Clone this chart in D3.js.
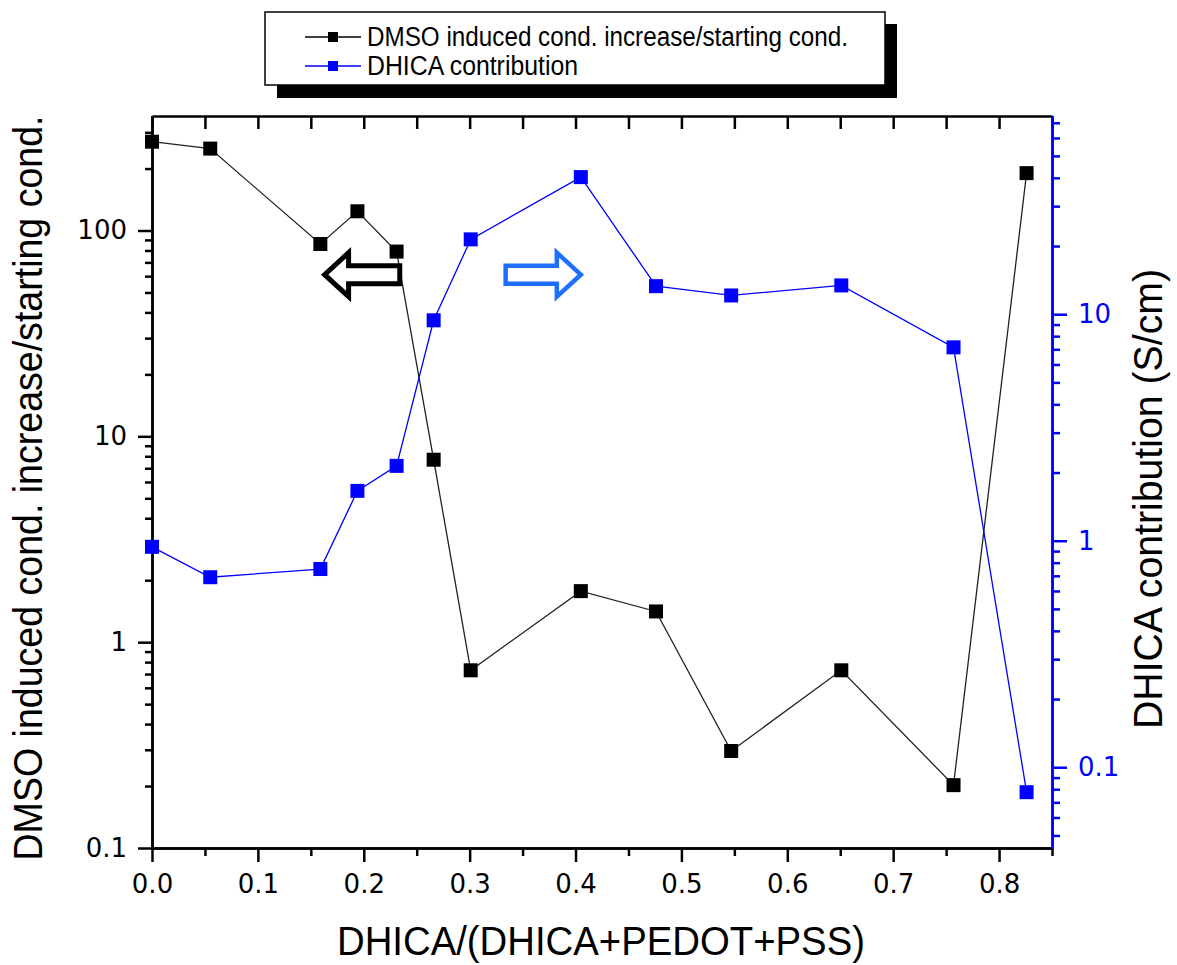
<!DOCTYPE html>
<html>
<head>
<meta charset="utf-8">
<script src="https://cdnjs.cloudflare.com/ajax/libs/d3/7.8.5/d3.min.js"></script>
<style>
  body { margin: 0; background: #fff; }
  .title { font-family: "Liberation Sans", Arial, sans-serif; fill: #000; }
</style>
</head>
<body>
<div class="vis"></div>
<script>
// data
const fraction = [0, 0.055, 0.159, 0.194, 0.231, 0.266, 0.301, 0.405, 0.476, 0.547, 0.651, 0.757, 0.826]
const dmsoRatio = [270, 250, 86, 124, 79, 7.7, 0.73, 1.77, 1.41, 0.296, 0.73, 0.202, 190]
const dhicaContrib = [0.94, 0.69, 0.75, 1.66, 2.14, 9.4, 21.4, 40.3, 13.3, 12.1, 13.4, 7.14, 0.0776]

const xTicks = [0, 0.1, 0.2, 0.3, 0.4, 0.5, 0.6, 0.7, 0.8]
const xMinorTicks = [0.05, 0.15, 0.25, 0.35, 0.45, 0.55, 0.65, 0.75, 0.85]
const leftTicks = [0.1, 1, 10, 100]
const leftMinorTicks = [0.2, 0.3, 0.4, 0.5, 0.6, 0.7, 0.8, 0.9, 2, 3, 4, 5, 6, 7, 8, 9,
                        20, 30, 40, 50, 60, 70, 80, 90, 200, 300]
const rightTicks = [0.1, 1, 10]
const rightMinorTicks = [0.05, 0.06, 0.07, 0.08, 0.09, 0.2, 0.3, 0.4, 0.5, 0.6, 0.7, 0.8, 0.9,
                         2, 3, 4, 5, 6, 7, 8, 9, 20, 30, 40, 50, 60, 70]
const legendLabels = ['DMSO induced cond. increase/starting cond.', 'DHICA contribution']
const seriesColors = ['#000', '#0000ff']

const w = 1177
const h = 965
const plotLeft = 152, plotRight = 1052, plotTop = 116, plotBottom = 848
const blueArrow = '#1f6fff'

const svg = d3.select('.vis')
                .append('svg')
                .attr('width', w)
                .attr('height', h)

// 比例尺
const x = d3.scaleLinear().domain([0, 0.85]).range([plotLeft, plotRight])
const yLeft = d3.scaleLog().domain([0.1, 360]).range([plotBottom, plotTop])
const yRight = d3.scaleLog().domain([0.044, 75]).range([plotBottom, plotTop])

function styleAxis(g, color, width) {
    g.selectAll('path, line').attr('stroke', color).attr('stroke-width', width)
    g.selectAll('text').attr('fill', color)
        .attr('font-family', '"DejaVu Sans", Verdana, sans-serif')
}

// 顶部刻度（向内）
svg.append('g')
    .attr('transform', 'translate(0,' + plotTop + ')')
    .call(d3.axisTop(x).tickValues(xTicks.concat(xMinorTicks)).tickSize(-13).tickSizeOuter(0).tickFormat(''))
    .call(g => styleAxis(g, '#000', 2.5))

// x轴
svg.append('g')
    .attr('transform', 'translate(0,' + plotBottom + ')')
    .call(d3.axisBottom(x).tickValues(xMinorTicks).tickSize(8).tickSizeOuter(0).tickFormat(''))
    .call(g => styleAxis(g, '#000', 2.5))
svg.append('g')
    .attr('transform', 'translate(0,' + plotBottom + ')')
    .call(d3.axisBottom(x).tickValues(xTicks).tickSize(14).tickPadding(13).tickSizeOuter(0).tickFormat(d3.format('.1f')))
    .call(g => styleAxis(g, '#000', 2.5))
    .attr('font-size', 26)

// 左轴
svg.append('g')
    .attr('transform', 'translate(' + plotLeft + ',0)')
    .call(d3.axisLeft(yLeft).tickValues(leftMinorTicks).tickSize(7).tickSizeOuter(0).tickFormat(''))
    .call(g => styleAxis(g, '#000', 2.5))
svg.append('g')
    .attr('transform', 'translate(' + plotLeft + ',0)')
    .call(d3.axisLeft(yLeft).tickValues(leftTicks).tickSize(14).tickPadding(11).tickSizeOuter(0).tickFormat(d => String(d)))
    .call(g => styleAxis(g, '#000', 2.5))
    .attr('font-size', 26)

// 右轴（蓝色）
svg.append('g')
    .attr('transform', 'translate(' + plotRight + ',0)')
    .call(d3.axisRight(yRight).tickValues(rightMinorTicks).tickSize(8).tickSizeOuter(0).tickFormat(''))
    .call(g => styleAxis(g, '#0000ff', 2.5))
svg.append('g')
    .attr('transform', 'translate(' + plotRight + ',0)')
    .call(d3.axisRight(yRight).tickValues(rightTicks).tickSize(15).tickPadding(11).tickSizeOuter(0).tickFormat(d => String(d)))
    .call(g => styleAxis(g, '#0000ff', 2.5))
    .attr('font-size', 26)

// 数据折线和方块
const series = [
    { values: dmsoRatio, y: yLeft, color: '#222', line: 1.3 },
    { values: dhicaContrib, y: yRight, color: '#0000ff', line: 1.3 }
]
series.forEach((s, k) => {
    const pts = fraction.map((f, i) => [f, s.values[i]])
    svg.append('path')
        .attr('d', d3.line().x(d => x(d[0])).y(d => s.y(d[1]))(pts))
        .attr('fill', 'none')
        .attr('stroke', s.color)
        .attr('stroke-width', s.line)
    svg.selectAll('.m' + k)
        .data(pts)
        .enter().append('rect')
        .attr('class', 'm' + k)
        .attr('x', d => x(d[0]) - 7)
        .attr('y', d => s.y(d[1]) - 7)
        .attr('width', 14)
        .attr('height', 14)
        .attr('fill', seriesColors[k])
})

// 箭头（空心）
function arrowPath(x0, x1, yc) {
    const dir = x1 > x0 ? 1 : -1
    const headBase = x1 - dir * 24
    return 'M' + x0 + ',' + (yc - 9) + 'L' + headBase + ',' + (yc - 9) + 'L' + headBase + ',' + (yc - 22) +
        'L' + x1 + ',' + yc + 'L' + headBase + ',' + (yc + 22) + 'L' + headBase + ',' + (yc + 9) +
        'L' + x0 + ',' + (yc + 9) + 'Z'
}
svg.append('path')
    .attr('d', arrowPath(x(0.234), x(0.163), yLeft(61)))
    .attr('fill', '#fff')
    .attr('stroke', '#000')
    .attr('stroke-width', 5)
svg.append('path')
    .attr('d', arrowPath(x(0.334), x(0.405), yLeft(61)))
    .attr('fill', '#fff')
    .attr('stroke', blueArrow)
    .attr('stroke-width', 4.5)

// 轴标题
svg.append('text')
    .attr('class', 'title')
    .attr('transform', 'translate(42,488) rotate(-90)')
    .attr('text-anchor', 'middle')
    .attr('font-size', 40)
    .attr('textLength', 745)
    .attr('lengthAdjust', 'spacingAndGlyphs')
    .text('DMSO induced cond. increase/starting cond.')

svg.append('text')
    .attr('class', 'title')
    .attr('transform', 'translate(1162,499) rotate(-90)')
    .attr('text-anchor', 'middle')
    .attr('font-size', 40)
    .attr('textLength', 460)
    .attr('lengthAdjust', 'spacingAndGlyphs')
    .text('DHICA contribution (S/cm)')

svg.append('text')
    .attr('class', 'title')
    .attr('x', 601)
    .attr('y', 955)
    .attr('text-anchor', 'middle')
    .attr('font-size', 40)
    .attr('textLength', 528)
    .attr('lengthAdjust', 'spacingAndGlyphs')
    .text('DHICA/(DHICA+PEDOT+PSS)')

// 图例
const legend = svg.append('g')
legend.append('rect')
    .attr('x', 277).attr('y', 24).attr('width', 620).attr('height', 74)
    .attr('fill', '#000')
legend.append('rect')
    .attr('x', 265).attr('y', 12).attr('width', 620).attr('height', 73)
    .attr('fill', '#fff').attr('stroke', '#000').attr('stroke-width', 1.5)
const legendLens = [481, 211]
legendLabels.forEach((label, i) => {
    const ly = 37 + i * 29
    legend.append('line')
        .attr('x1', 305).attr('x2', 361).attr('y1', ly).attr('y2', ly)
        .attr('stroke', seriesColors[i]).attr('stroke-width', 1.4)
    legend.append('rect')
        .attr('x', 328).attr('y', ly - 5).attr('width', 10).attr('height', 10)
        .attr('fill', seriesColors[i])
    legend.append('text')
        .attr('class', 'title')
        .attr('x', 367)
        .attr('y', ly + 9)
        .attr('font-size', 27)
        .attr('textLength', legendLens[i])
        .attr('lengthAdjust', 'spacingAndGlyphs')
        .text(label)
})
</script>
</body>
</html>
